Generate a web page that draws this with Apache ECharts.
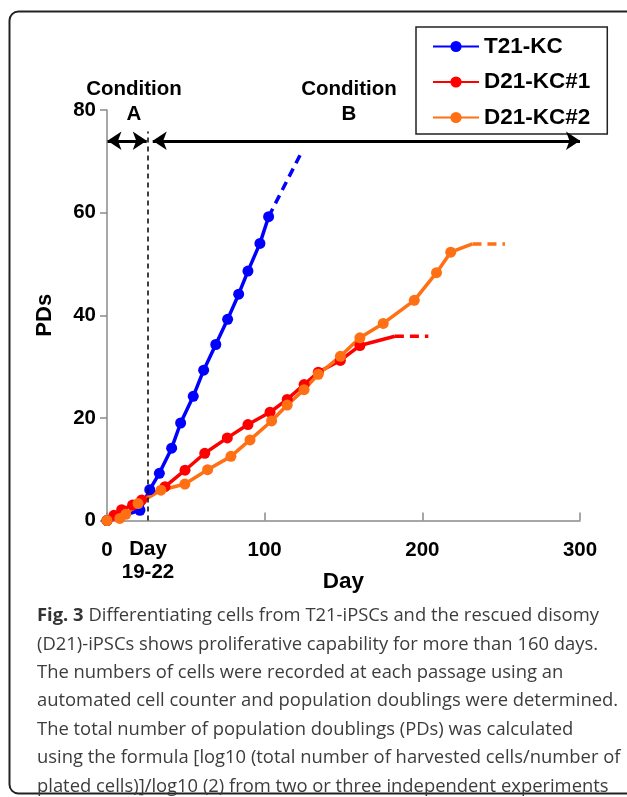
<!DOCTYPE html>
<html><head><meta charset="utf-8">
<script src="https://cdn.jsdelivr.net/npm/echarts@6/dist/echarts.min.js"></script>
<style>html,body{margin:0;padding:0;background:#fff}#c{width:627px;height:797px}</style>
</head><body><div id="c"></div>
<script>
// ---- data ----
const seriesNames = ['T21-KC', 'D21-KC#1', 'D21-KC#2'];
const t21Days = [0, 20.9, 27.1, 33.2, 41.0, 46.7, 54.7, 61.3, 69.0, 76.5, 83.5, 89.4, 97.0, 102.5];
const t21PDs  = [0, 2.0, 6.0, 9.2, 14.1, 19.0, 24.2, 29.3, 34.3, 39.2, 44.1, 48.6, 54.0, 59.2];
const t21ExtDays = [102.5, 122.8];
const t21ExtPDs  = [59.2, 71.4];
const d1Days = [0, 4.4, 9.3, 16.2, 22.0, 36.8, 49.5, 62.0, 76.3, 89.4, 103.4, 114.3, 125.0, 134.0, 148.0, 160.4, 182.6];
const d1PDs  = [0, 1.0, 2.1, 3.0, 4.0, 6.6, 9.8, 13.1, 16.1, 18.7, 21.1, 23.6, 26.5, 28.9, 31.2, 34.1, 35.9];
const d1ExtDays = [182.6, 203.8];
const d1ExtPDs  = [35.9, 35.9];
const d2Days = [0, 8.1, 11.9, 19.7, 34.2, 49.4, 63.8, 78.6, 90.7, 104.4, 114.3, 125.0, 134.0, 148.0, 160.4, 175.2, 194.9, 209.0, 218.0, 231.8];
const d2PDs  = [0, 0.4, 1.2, 3.3, 5.9, 7.1, 9.9, 12.5, 15.7, 19.4, 22.5, 25.5, 28.5, 32.0, 35.6, 38.4, 42.9, 48.3, 52.3, 53.9];
const d2ExtDays = [231.8, 252.4];
const d2ExtPDs  = [53.9, 53.9];
const xTicks = [0, 100, 200, 300];
const yTicks = [0, 20, 40, 60, 80];
const transitionDay = 26;
const transitionLabel = 'Day\n19-22';
const arrowPD = 74;
const captionLines = [
  'Differentiating cells from T21-iPSCs and the rescued disomy',
  '(D21)-iPSCs shows proliferative capability for more than 160 days.',
  'The numbers of cells were recorded at each passage using an',
  'automated cell counter and population doublings were determined.',
  'The total number of population doublings (PDs) was calculated',
  'using the formula [log10 (total number of harvested cells/number of',
  'plated cells)]/log10 (2) from two or three independent experiments'
];

const colors = ['#0000ff', '#ff0000', '#ff7014'];
function pts(xs, ys, hideLast) {
  return xs.map((x, i) => {
    const it = { value: [x, ys[i]] };
    if (hideLast && i === xs.length - 1) it.symbol = 'none';
    return it;
  });
}
const chart = echarts.init(document.getElementById('c'), null, { renderer: 'canvas' });
const bold = { fontFamily: 'Liberation Sans, Arial', fontWeight: 'bold', color: '#000' };
const boldFont = 'bold 20.5px "Liberation Sans", Arial';

function mainSeries(name, xs, ys, c, hideLast) {
  return { name, type: 'line', data: pts(xs, ys, hideLast), color: c, symbol: 'circle', symbolSize: 11,
    lineStyle: { width: 3.5, color: c }, itemStyle: { color: c }, animation: false };
}
function extSeries(name, xs, ys, c) {
  return { name: name + ' ext', type: 'line', data: pts(xs, ys), symbol: 'none',
    lineStyle: { width: 3.5, color: c, type: [9, 6] }, animation: false };
}

const option = {
  animation: false,
  grid: { left: 107, right: 47, top: 110, bottom: 276.5, containLabel: false },
  legend: {
    data: seriesNames, orient: 'vertical', left: 416, top: 27,
    backgroundColor: '#fff', borderColor: '#222', borderWidth: 1.5,
    padding: [8, 17, 5, 16], itemGap: 12.5, itemWidth: 46, itemHeight: 14,
    textStyle: { ...bold, fontSize: 22.5, lineHeight: 22 }
  },
  xAxis: {
    type: 'value', min: 0, max: 300, interval: 100,
    axisLine: { lineStyle: { color: '#8a8a8a', width: 1.5 } },
    axisTick: { inside: true, length: 8, lineStyle: { color: '#8a8a8a', width: 1.5 } },
    splitLine: { show: false },
    axisLabel: { ...bold, fontSize: 20.5, margin: 19 },
    name: 'Day', nameLocation: 'middle', nameGap: 50,
    nameTextStyle: { ...bold, fontSize: 22.5 }
  },
  yAxis: {
    type: 'value', min: 0, max: 80, interval: 20,
    axisLine: { show: true, lineStyle: { color: '#8a8a8a', width: 1.5 } },
    axisTick: { show: true, length: 7, lineStyle: { color: '#8a8a8a', width: 1.5 } },
    splitLine: { show: false },
    axisLabel: { ...bold, fontSize: 20.5, margin: 11 },
    name: 'PDs', nameLocation: 'middle', nameGap: 51, nameRotate: 90,
    nameTextStyle: { ...bold, fontSize: 22 }
  },
  series: [
    mainSeries(seriesNames[0], t21Days, t21PDs, colors[0], false),
    extSeries(seriesNames[0], t21ExtDays, t21ExtPDs, colors[0]),
    mainSeries(seriesNames[1], d1Days, d1PDs, colors[1], true),
    extSeries(seriesNames[1], d1ExtDays, d1ExtPDs, colors[1]),
    mainSeries(seriesNames[2], d2Days, d2PDs, colors[2], true),
    extSeries(seriesNames[2], d2ExtDays, d2ExtPDs, colors[2]),
    { type: 'line', name: 'annot', data: [], silent: true,
      markLine: {
        silent: true, animation: false,
        data: [
          [{ coord: [transitionDay, 0], symbol: 'none', lineStyle: { color: '#000', width: 1.5, type: [5, 4] },
             label: { show: true, position: 'start', formatter: transitionLabel, ...bold, fontSize: 20.5, lineHeight: 23, distance: 17 } },
           { coord: [transitionDay, 75.8], symbol: 'none' }],
          [{ coord: [0.3, arrowPD], symbol: 'arrow', lineStyle: { color: '#000', width: 3, type: 'solid' }, label: { show: false } },
           { coord: [transitionDay - 0.8, arrowPD], symbol: 'arrow' }],
          [{ coord: [transitionDay + 3, arrowPD], symbol: 'arrow', lineStyle: { color: '#000', width: 3, type: 'solid' }, label: { show: false } },
           { coord: [300, arrowPD], symbol: 'arrow' }]
        ],
        symbolSize: [14, 14]
      } }
  ],
  graphic: [
    { type: 'rect', shape: { x: 9.5, y: 11.5, width: 700, height: 782, r: 9 }, style: { fill: 'none', stroke: '#222', lineWidth: 2 }, z: -1 },
    { type: 'text', x: 134, y: 89, style: { text: 'Condition', fill: '#000', font: boldFont, textAlign: 'center', textVerticalAlign: 'middle' } },
    { type: 'text', x: 134, y: 114, style: { text: 'A', fill: '#000', font: boldFont, textAlign: 'center', textVerticalAlign: 'middle' } },
    { type: 'text', x: 349, y: 89, style: { text: 'Condition', fill: '#000', font: boldFont, textAlign: 'center', textVerticalAlign: 'middle' } },
    { type: 'text', x: 349, y: 114, style: { text: 'B', fill: '#000', font: boldFont, textAlign: 'center', textVerticalAlign: 'middle' } },
  ].concat(captionLines.map((t, i) => ({
    type: 'text', x: 37, y: 616 + i * 28.4,
    style: i === 0
      ? { text: '{b|Fig. 3} ' + t, rich: { b: { font: 'bold 18.4px "Open Sans"', fill: '#333' } }, font: '18.4px "Open Sans"', fill: '#3c3c3c', textVerticalAlign: 'middle' }
      : { text: t, font: '18.4px "Open Sans"', fill: '#3c3c3c', textVerticalAlign: 'middle' }
  })))
};
chart.setOption(option);
</script></body></html>
